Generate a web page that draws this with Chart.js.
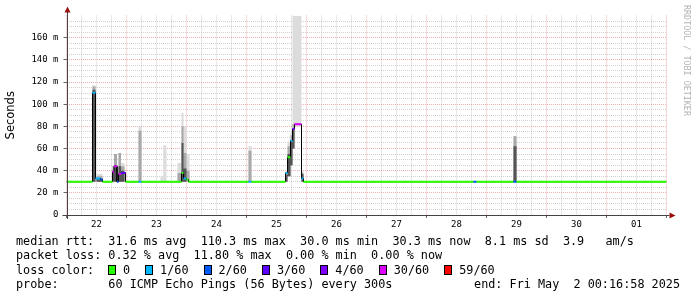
<!DOCTYPE html>
<html>
<head>
<meta charset="utf-8">
<script src="https://cdn.jsdelivr.net/npm/chart.js@4.4.0/dist/chart.umd.min.js"></script>
<style>
html, body { margin: 0; padding: 0; background: #fff; }
#wrap { position: relative; width: 697px; height: 297px; overflow: hidden; }
#wrap canvas { position: absolute; left: 0; top: 0; }
.row { position: absolute; left: 16px; font: 11.8px 'DejaVu Sans Mono', monospace; line-height: 14px; white-space: pre; color: #000; }
.box { position: absolute; width: 8px; height: 10px; border: 1px solid #000; box-sizing: border-box; }
#credit { position: absolute; left: 682px; top: 5px; writing-mode: vertical-rl; font: 8.4px 'DejaVu Sans Mono', monospace; color: #b4b4b4; }
</style>
</head>
<body>
<div id="wrap">
  <canvas id="chart" width="697" height="297"></canvas>
  <div id="credit">RRDTOOL / TOBI OETIKER</div>
  <div class="row" style="top:234px">median rtt:  31.6 ms avg  110.3 ms max  30.0 ms min  30.3 ms now  8.1 ms sd  3.9   am/s</div>
  <div class="row" style="top:248px">packet loss: 0.32 % avg  11.80 % max  0.00 % min  0.00 % now</div>
  <div class="row" id="lossRow" style="top:262.5px">loss color:</div>
  <div class="row" style="top:277px">probe:       60 ICMP Echo Pings (56 Bytes) every 300s</div>
  <div class="row" style="top:277px;left:auto;right:17px">end: Fri May  2 00:16:58 2025</div>
</div>
<script>
// hours since Apr 22 00:00, ten days shown
const dayLabels = ['22', '23', '24', '25', '26', '27', '28', '29', '30', '01'];
const lossLabels = ['0', '1/60', '2/60', '3/60', '4/60', '30/60', '59/60'];
const lossColors = ['#26ff00', '#00b8ff', '#0059ff', '#5e00ff', '#7e00ff', '#dd00ff', '#ff0000'];

// median rtt (ms), each value holds until the next start time
const medT    = [0, 10.4, 11.6, 13.6, 14.4, 18.4, 19.0, 20.2, 20.8, 21.8, 23.6, 28.8, 30.0, 46.0, 46.8, 48.0, 48.8, 72.8, 74.0, 87.6, 88.4, 89.6, 90.4, 91.2, 94.0, 94.8, 162.8, 164.0, 178.8, 180.0];
const medV    = [30, 110.3, 33, 32, 30, 39, 44, 30, 37, 38, 30, 30, 30, 38, 33, 32, 30, 30, 30, 38, 52, 67, 77.6, 81.8, 33, 30, 30, 30, 30, 30];
const medLoss = [0, 1, 1, 2, 0, 5, 5, 2, 5, 3, 0, 1, 0, 0, 1, 0, 0, 1, 0, 1, 0, 1, 4, 5, 1, 0, 2, 0, 2, 0];

// smoke (ping spread) per interval
const smokeStart = [10.4, 12.0, 18.4, 19.0, 20.8, 21.8, 28.8, 37.6, 38.8, 44.4, 46.0, 46.8, 48.0, 72.8, 87.6, 88.4, 89.6, 90.4, 91.2, 94.0, 178.8];
const smokeEnd   = [11.6, 14.4, 19.0, 20.2, 21.8, 23.2, 30.0, 38.6, 40.0, 46.0, 46.8, 48.0, 49.2, 74.0, 88.4, 89.6, 90.4, 91.2, 94.0, 94.8, 180.0];
const smokeLo    = [30, 30, 30, 30, 30, 30, 30, 30, 30, 30, 30, 30, 30, 30, 30, 35, 45, 60, 80, 30, 30];
const smokeLight = [117, 37, 44, 55, 56, 47, 80, 35, 63, 47, 92, 80, 55, 62, 40, 66, 75, 180, 180, 40, 71];
const smokeMid   = [116, 35, 44, 55, 56, 44, 76, 30, 30, 38, 80, 56, 40, 58, 38, 62, 72, 82, 80, 38, 71];
const smokeDark  = [113, 33, 40, 45, 44, 40, 30, 30, 30, 30, 65, 42, 30, 30, 36, 55, 66, 78, 80, 37, 62];

const X_MAX = 240, Y_MAX = 180;

// loss colour legend row
const lossRow = document.getElementById('lossRow');
let lx = 92;
lossLabels.forEach((lab, i) => {
    const b = document.createElement('div');
    b.className = 'box';
    b.style.left = lx + 'px';
    b.style.top = '2px';
    b.style.background = lossColors[i];
    lossRow.appendChild(b);
    const t = document.createElement('div');
    t.className = 'row';
    t.style.left = (lx + 15) + 'px';
    t.style.top = '0px';
    t.textContent = lab;
    lossRow.appendChild(t);
    lx += 15 + lab.length * 7.1 + 15;
});

function smokePts(vals) {
    const pts = [{ x: 0, y: 30 }];
    smokeStart.forEach((s, i) => {
        const e = smokeEnd[i];
        pts.push({ x: s, y: 30 }, { x: s, y: vals[i] }, { x: e, y: vals[i] }, { x: e, y: 30 });
    });
    pts.push({ x: X_MAX, y: 30 });
    return pts;
}

const medPts = [];
medT.forEach((t, i) => {
    const next = i + 1 < medT.length ? medT[i + 1] : X_MAX;
    medPts.push({ x: t, y: medV[i] }, { x: next, y: medV[i] });
});

const hidden = { borderWidth: 0, pointRadius: 0, fill: false, backgroundColor: 'rgba(0,0,0,0)' };
function layer(vals, color, target, order) {
    return { data: smokePts(vals), borderWidth: 0, pointRadius: 0, backgroundColor: color, fill: { target: target }, order: order };
}

const datasets = [
    Object.assign({ data: smokePts(smokeLo), order: 9 }, hidden),
    layer(smokeLight, '#dcdcdc', 0, 8),
    layer(smokeMid, '#a9a9a9', 0, 7),
    layer(smokeDark, '#555555', 0, 6),
    { data: medPts, borderColor: '#000', borderWidth: 1, pointRadius: 0, fill: false, order: 2 },
    {
        data: medPts, borderWidth: 2, pointRadius: 0, fill: false, order: 1,
        borderColor: lossColors[0],
        segment: {
            borderColor: ctx => ctx.p0.parsed.x === ctx.p1.parsed.x ? 'rgba(0,0,0,0)' : lossColors[medLoss[ctx.p0DataIndex >> 1]]
        }
    }
];

const axisArrows = {
    id: 'axisArrows',
    afterDraw(chart) {
        const { ctx, chartArea: a } = chart;
        const x0 = Math.round(a.left) + 0.5, y0 = Math.round(a.bottom) + 0.5;
        ctx.save();
        ctx.strokeStyle = '#444';
        ctx.lineWidth = 1;
        ctx.beginPath();
        ctx.moveTo(a.left - 4, y0); ctx.lineTo(a.right + 3, y0);
        ctx.moveTo(x0, a.bottom + 4); ctx.lineTo(x0, a.top - 4);
        ctx.stroke();
        ctx.fillStyle = '#9a1010';
        ctx.beginPath();
        ctx.moveTo(x0 - 3, a.top - 3); ctx.lineTo(x0 + 3, a.top - 3); ctx.lineTo(x0, a.top - 9); ctx.closePath();
        ctx.moveTo(a.right + 3, y0 - 3); ctx.lineTo(a.right + 3, y0 + 3); ctx.lineTo(a.right + 9, y0); ctx.closePath();
        ctx.fill();
        ctx.restore();
    }
};

const tickFont = { family: "'DejaVu Sans Mono', monospace", size: 9 };
const majorGrid = 'rgba(225,80,80,0.45)';
const minorGrid = 'rgba(150,150,150,0.45)';

new Chart(document.getElementById('chart'), {
    type: 'line',
    data: { datasets: datasets },
    plugins: [axisArrows],
    options: {
        responsive: false,
        animation: false,
        events: [],
        layout: { padding: { left: 0, top: 15.5, right: 30.5, bottom: 62 } },
        plugins: { legend: { display: false }, tooltip: { enabled: false } },
        scales: {
            x: {
                type: 'linear', min: 0, max: X_MAX,
                afterBuildTicks: s => { s.ticks = []; for (let v = 0; v <= X_MAX; v += 6) s.ticks.push({ value: v }); },
                afterFit: s => { s.height = 20; },
                ticks: {
                    autoSkip: false, maxRotation: 0, padding: 1, color: '#000', font: tickFont,
                    callback: v => (v % 24 === 12 ? dayLabels[(v - 12) / 24] : '')
                },
                grid: {
                    color: c => (c.tick && c.tick.value % 24 === 0 ? majorGrid : minorGrid),
                    tickLength: 3,
                    tickColor: c => (c.tick && c.tick.value % 24 === 0 ? '#666' : 'rgba(0,0,0,0)')
                },
                border: { display: false, dash: [1, 1] }
            },
            y: {
                type: 'linear', min: 0, max: Y_MAX,
                afterBuildTicks: s => { s.ticks = []; for (let v = 0; v <= Y_MAX; v += 5) s.ticks.push({ value: v }); },
                afterFit: s => { s.width = 66.5; },
                ticks: {
                    autoSkip: false, padding: 5, color: '#000', font: tickFont,
                    callback: v => (v % 20 === 0 && v < Y_MAX ? (v === 0 ? '0' : v + ' m') : '')
                },
                grid: {
                    color: c => (!c.tick || c.tick.value >= Y_MAX ? 'rgba(0,0,0,0)' : c.tick.value % 20 === 0 ? majorGrid : minorGrid),
                    tickLength: 3,
                    tickColor: c => (c.tick && c.tick.value % 20 === 0 && c.tick.value < Y_MAX ? '#666' : 'rgba(0,0,0,0)')
                },
                border: { display: false, dash: [1, 1] },
                title: {
                    display: true, text: 'Seconds', color: '#000',
                    font: { family: "'DejaVu Sans', sans-serif", size: 11.5 },
                    padding: { top: 4, bottom: 0 }
                }
            }
        }
    }
});
</script>
</body>
</html>
